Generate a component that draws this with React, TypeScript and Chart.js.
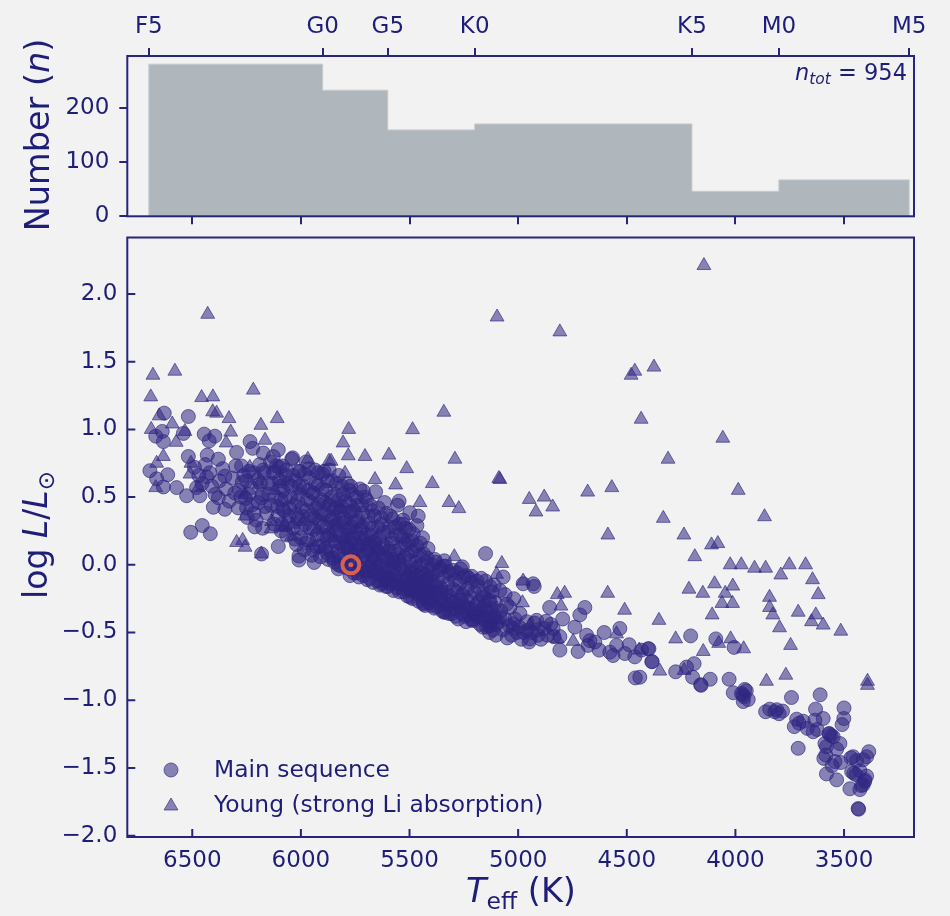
import React, { useEffect, useRef } from "react";
import { Chart, registerables } from "chart.js";
import { drawPoint } from "chart.js/helpers";

Chart.register(...registerables);

const specEdges = [6700, 5900, 5600, 5200, 4200, 3800, 3200];
const specLabels = ["F5", "G0", "G5", "K0", "K5", "M0", "M5"];
const specCounts = [280, 232, 159, 170, 46, 67];
const teffTicks = [6500, 6000, 5500, 5000, 4500, 4000, 3500];
const countTicks = [0, 100, 200];
const logLTicks = [2, 1.5, 1, 0.5, 0, -0.5, -1, -1.5, -2];
const sun: [number, number][] = [[5770, 0]];

const msHot: [number, number][] = [
  [6629,1.12],[6518,1.095],[6638,0.985],[6668,0.95],[6633,0.91],[6541,0.97],[6445,0.965],[6396,0.95],[6422,0.915],[6234,0.91],
  [6222,0.86],[6104,0.85],[6038,0.79],[6695,0.695],[6613,0.665],[6664,0.635],[6633,0.575],[6572,0.57],[6526,0.51],[6518,0.8],
  [6431,0.81],[6454,0.29],[6507,0.24],[6417,0.23],[6181,0.08],[6104,0.135],[6009,0.035],[5939,0.017],[6250,0.62],[6296,0.83],
  [6380,0.78],[6273,0.73],[6434,0.65],[6350,0.655],[6465,0.51],[6480,0.57],[6304,0.53],[6380,0.495],[6403,0.425],[6350,0.41],
  [6250,0.42],[6212,0.28],[6181,0.495],[6120,0.69],[6173,0.7],[6009,0.69],[5963,0.71],[5920,0.68],[6127,0.8],[6173,0.825],
  [6490,0.72],[6470,0.66],[6455,0.6],[6440,0.74],[6420,0.68],[6410,0.58],[6395,0.52],[6375,0.62],[6360,0.71],[6345,0.56],
  [6330,0.47],[6315,0.64],[6300,0.73],[6285,0.55],[6270,0.61],[6255,0.49],[6240,0.69],[6228,0.57],[6215,0.38],[6200,0.63],
  [6190,0.74],[6178,0.52],[6165,0.43],[6150,0.6],[6140,0.76],[6128,0.68],[6115,0.5],[6105,0.36],[6095,0.58],[6085,0.73],
];

const msCore: [number, number][] = [
  [6098,0.72],[6092,0.48],[6088,0.3],[6082,0.55],[6078,0.4],[6070,0.66],[6066,0.22],[6060,0.6],[6055,0.36],[6048,0.5],
  [6042,0.78],[6036,0.27],[6030,0.44],[6026,0.62],[6020,0.15],[6014,0.34],[6010,0.52],[6004,0.69],[6000,0.2],
  [5995,0.42],[5990,0.58],[5985,0.11],[5980,0.3],[5976,0.76],[5970,0.48],[5965,0.18],[5960,0.64],[5955,0.36],[5950,0.07],
  [5946,0.53],[5940,0.26],[5935,0.7],[5930,0.42],[5925,0.13],[5920,0.59],[5915,0.32],[5910,0.06],[5905,0.48],[5900,0.67],[5897,0.22],
  [5893,0.38],[5888,0.12],[5884,0.55],[5880,0.28],[5875,0.04],[5870,0.7],[5866,0.44],[5860,0.18],[5855,0.62],[5850,0.34],
  [5846,0.02],[5840,0.52],[5836,0.25],[5830,0.1],[5826,0.66],[5820,0.4],[5815,-0.01],[5812,0.58],[5808,0.2],[5803,0.31],
  [5798,0.05],[5795,0.47],[5790,0.14],[5786,0.6],[5782,0.26],[5778,-0.03],[5774,0.39],[5770,0.09],[5765,0.52],[5760,0.2],
  [5756,-0.06],[5750,0.32],[5746,0.03],[5742,0.44],[5738,0.15],[5733,-0.09],[5728,0.56],[5724,0.26],[5720,0.06],[5715,0.38],[5710,-0.04],[5705,0.18],
  [5698,0.48],[5694,-0.11],[5690,0.1],[5686,0.3],[5682,-0.02],[5678,0.22],[5672,0.4],[5668,-0.13],[5664,0.05],[5660,0.16],
  [5656,0.54],[5650,-0.07],[5645,0.28],[5640,0.08],[5636,-0.15],[5630,0.35],[5625,-0.03],[5620,0.14],[5615,0.46],[5610,-0.1],[5606,0.03],[5602,0.24],
  [5598,-0.16],[5594,0.1],[5588,0.36],[5584,-0.06],[5580,0.19],[5574,-0.19],[5570,0.02],[5566,0.28],[5560,-0.12],[5555,0.44],
  [5550,0.08],[5546,-0.2],[5540,0.22],[5536,-0.03],[5530,0.33],[5526,-0.15],[5520,0.05],[5515,0.15],[5510,-0.23],[5505,-0.08],[5502,0.26],
  [5498,-0.18],[5494,0.03],[5490,0.18],[5485,-0.25],[5480,-0.1],[5476,0.11],[5470,-0.02],[5466,0.29],[5460,-0.22],[5455,-0.14],
  [5450,0.07],[5446,-0.06],[5440,0.2],[5436,-0.28],[5430,-0.17],[5425,0.02],[5420,-0.1],[5415,0.12],[5410,-0.24],[5405,-0.03],[5400,-0.3],
  [5396,-0.15],[5392,-0.07],[5388,-0.26],[5384,0.04],[5380,-0.2],[5375,-0.31],[5370,-0.12],[5365,-0.04],[5360,-0.24],[5356,-0.17],
  [5350,-0.34],[5345,-0.09],[5340,-0.28],[5335,-0.01],[5330,-0.2],[5325,-0.14],[5320,-0.3],[5315,-0.23],[5310,-0.07],[5305,-0.36],[5300,-0.18],
  [5296,-0.27],[5292,-0.11],[5286,-0.33],[5282,-0.2],[5276,-0.4],[5270,-0.14],[5266,-0.26],[5260,-0.36],[5256,-0.22],[5250,-0.09],
  [5245,-0.31],[5240,-0.42],[5235,-0.18],[5230,-0.27],[5225,-0.37],[5220,-0.24],[5215,-0.13],[5210,-0.33],[5205,-0.41],[5200,-0.2],
  [5195,-0.3],[5190,-0.38],[5185,-0.16],[5180,-0.27],[5175,-0.44],[5170,-0.34],[5165,-0.22],[5160,-0.4],[5155,-0.3],[5150,-0.12],
  [5145,-0.46],[5140,-0.36],[5135,-0.26],[5130,-0.42],[5125,-0.32],[5120,-0.2],[5115,-0.48],[5110,-0.38],[5105,-0.28],[5100,-0.44],
];

const msCoreExtra: [number, number][] = [
  [5880,0.2],[5872,0.36],[5858,0.1],[5848,0.28],[5838,0.42],[5828,0.0],[5818,0.16],[5808,0.34],[5792,-0.02],[5784,0.12],
  [5776,0.24],[5768,0.34],[5758,0.04],[5748,0.16],[5740,-0.06],[5730,0.1],[5722,0.2],[5712,-0.08],[5702,0.02],[5692,0.16],
  [5684,-0.1],[5674,0.06],[5666,-0.05],[5654,0.12],[5646,-0.12],[5638,0.0],[5628,-0.14],[5618,0.06],[5608,-0.16],[5596,-0.04],
  [5586,-0.14],[5576,0.04],[5568,-0.08],[5558,-0.17],[5548,0.0],[5538,-0.12],[5528,-0.2],[5518,-0.06],[5508,-0.16],[5496,-0.24],
  [5488,-0.12],[5478,-0.2],[5468,-0.08],[5458,-0.27],[5448,-0.16],[5438,-0.22],[5428,-0.3],[5418,-0.18],[5408,-0.28],[5398,-0.2],
  [5386,-0.32],[5374,-0.22],[5362,-0.3],[5352,-0.2],[5342,-0.35],[5328,-0.26],[5318,-0.36],[5302,-0.28],[5288,-0.38],[5274,-0.3],
  [5258,-0.28],[5244,-0.38],[5228,-0.32],[5212,-0.4],[5196,-0.36],[5178,-0.38],[5162,-0.46],[5148,-0.38],[5132,-0.5],[5118,-0.4],
  [5102,-0.52],[5090,-0.42],[5080,-0.34],[5070,-0.48],[5060,-0.4],[5050,-0.54],[5040,-0.45],[5030,-0.52],[5015,-0.4],[5005,-0.5],
  [4995,-0.46],[4985,-0.55],[4975,-0.5],[4960,-0.42],[4950,-0.57],[4935,-0.5],[4925,-0.43],[4910,-0.48],[4895,-0.55],[4880,-0.47],
  [4865,-0.52],[4850,-0.44],[4835,-0.53],[5548,0.47],[5499,0.385],[5460,0.36],[5532,0.3],[5713,0.545],[5771,0.58],[5893,0.69],
  [5943,0.53],[6009,0.065],[5828,-0.03],[5774,-0.08],[5257,-0.015],[5345,-0.01],[5214,-0.085],[5437,-0.29],[5334,-0.35],[5214,-0.41],[5130,-0.45],
];

const msUpperHot: [number, number][] = [
  [6288,0.42],[6276,0.5],[6263,0.66],[6247,0.35],[6239,0.52],[6226,0.44],[6218,0.68],[6206,0.33],[6197,0.46],[6186,0.6],
  [6176,0.27],[6169,0.68],[6158,0.38],[6148,0.52],[6137,0.44],[6131,0.6],[6122,0.3],[6113,0.73],[6107,0.43],[6099,0.62],
  [6091,0.25],[6083,0.41],[6073,0.49],[6067,0.7],[6059,0.31],[6052,0.42],[6044,0.58],[6037,0.66],[6028,0.19],[6021,0.37],
  [6015,0.47],[6007,0.58],[5999,0.27],[5992,0.36],[5983,0.67],[5978,0.16],[5972,0.4],[5966,0.55],[5958,0.27],[5952,0.46],
  [5944,0.11],[5938,0.35],[5932,0.6],[5926,0.22],[5919,0.45],
];

const msUpperMid: [number, number][] = [
  [5913,0.14],[5908,0.38],[5902,0.56],[5895,0.28],[5889,0.46],[5882,0.09],[5877,0.62],[5871,0.22],[5864,0.33],[5859,0.5],
  [5853,0.05],[5847,0.41],[5842,0.17],[5837,0.6],[5832,0.3],[5827,0.48],[5822,0.07],[5817,0.23],[5811,0.43],[5806,0.52],
  [5801,0.13],[5796,0.34],[5791,0.02],[5787,0.22],[5781,0.45],[5776,0.55],[5772,0.15],[5767,0.28],[5762,0.03],[5757,0.4],
  [5752,0.1],[5747,0.24],[5743,0.5],[5737,0.33],[5731,-0.02],[5727,0.14],[5721,0.44],[5716,0.28],[5711,0.07],[5706,0.5],
  [5701,0.22],[5696,-0.05],[5691,0.36],[5687,0.12],[5681,0.44],[5676,0.0],[5671,0.27],[5665,0.17],[5661,0.36],[5655,-0.03],
  [5649,0.1],[5644,0.42],[5639,0.2],[5634,-0.08],[5629,0.3],[5624,0.07],[5619,0.24],[5613,-0.12],[5609,0.38],[5604,0.13],
  [5599,0.0],[5593,0.28],[5589,-0.1],[5583,0.16],[5578,0.34],[5572,-0.03],[5567,0.1],[5561,0.22],[5556,-0.14],[5551,0.03],
  [5545,0.3],[5541,0.12],[5535,-0.17],[5531,0.19],[5525,-0.03],[5519,0.27],[5514,-0.1],[5509,0.08],[5504,0.17],[5499,-0.19],
  [5493,-0.05],[5489,0.1],[5483,0.23],[5477,-0.16],[5472,0.02],[5467,0.14],[5461,-0.08],[5456,-0.2],[5451,0.16],[5445,0.0],
  [5441,-0.13],[5435,0.08],[5429,-0.25],[5424,-0.07],[5419,0.05],[5413,-0.17],[5407,-0.1],[5403,-0.26],[5397,0.0],[5391,-0.13],
];

const msUpperCool: [number, number][] = [
  [5380,0.02],[5360,-0.02],[5340,0.03],[5320,-0.05],[5300,-0.04],[5280,-0.06],[5265,-0.03],[5240,-0.08],[5225,-0.1],[5190,-0.12],
  [5170,-0.1],[5130,-0.16],[5110,-0.15],[5060,-0.22],[5020,-0.25],
];

const msTail: [number, number][] = [
  [5150,0.083],[4855,-0.315],[4795,-0.4],[4716,-0.37],[4693,-0.315],[4532,-0.47],[4739,-0.46],[4872,-0.417],[4808,-0.63],[4724,-0.64],
  [4678,-0.595],[4627,-0.63],[4685,-0.52],[4604,-0.5],[4563,-0.67],[4578,-0.645],[4509,-0.655],[4463,-0.68],[4398,-0.62],[4385,-0.715],
  [4461,-0.835],[4489,-0.59],[4547,-0.595],[4647,-0.57],[4931,-0.14],[4926,-0.16],[4977,-0.14],[5069,-0.09],[5084,-0.19],[5133,-0.45],
  [5023,-0.47],[4946,-0.547],[4908,-0.52],[4839,-0.47],[4808,-0.53],[4915,-0.41],[4961,-0.485],[5038,-0.315],[4992,-0.36],[5023,-0.435],
  [5084,-0.385],[5053,-0.29],[5130,-0.265],[5160,-0.24],[5145,-0.34],[4670,-0.56],[4206,-0.525],[4090,-0.547],[4006,-0.61],[4402,-0.62],
  [4383,-0.715],[4432,-0.63],[4275,-0.79],[4190,-0.73],[4225,-0.755],[4197,-0.83],[4160,-0.885],[4158,-0.89],[4116,-0.845],[4029,-0.845],
  [4440,-0.83],[4010,-0.945],[3957,-0.92],[3972,-0.95],[3961,-0.975],[3742,-0.98],[3610,-0.96],
];

const msCool: [number, number][] = [
  [3964,-1.01],[3941,-0.995],[3950,-0.93],[3966,-0.96],[3861,-1.085],[3842,-1.066],[3819,-1.085],[3799,-1.1],[3783,-1.08],[3810,-1.07],
  [3718,-1.14],[3729,-1.195],[3707,-1.17],[3688,-1.155],[3631,-1.066],[3596,-1.135],[3634,-1.147],[3669,-1.208],[3642,-1.233],[3624,-1.216],
  [3711,-1.355],[3500,-1.057],[3501,-1.135],[3509,-1.18],[3569,-1.245],[3550,-1.27],[3588,-1.32],[3519,-1.32],[3534,-1.36],[3581,-1.343],
  [3584,-1.405],[3593,-1.43],[3515,-1.46],[3542,-1.453],[3555,-1.483],[3581,-1.544],[3534,-1.588],[3458,-1.417],[3468,-1.425],[3386,-1.38],
  [3396,-1.417],[3412,-1.44],[3442,-1.446],[3465,-1.527],[3455,-1.54],[3427,-1.52],[3396,-1.56],[3404,-1.588],[3412,-1.625],[3427,-1.66],
  [3473,-1.654],[3435,-1.8],[3433,-1.805],[3567,-1.25],[3560,-1.26],[3405,-1.6],[3420,-1.63],[3445,-1.55],
];

const young: [number, number][] = [
  [6429,1.85],[6681,1.4],[6580,1.43],[6691,1.24],[6457,1.235],[6405,1.24],[6219,1.29],[6406,1.13],[6388,1.12],[6652,1.1],
  [6331,1.08],[6592,1.04],[6109,1.08],[6184,1.03],[6689,1.0],[6534,0.985],[6323,0.98],[6574,0.905],[6344,0.9],[6165,0.92],
  [6633,0.8],[6664,0.75],[5968,0.78],[6506,0.75],[5871,0.765],[6668,0.57],[6192,0.595],[6084,0.62],[6510,0.67],[6472,0.57],
  [6257,0.52],[6257,0.36],[6135,0.32],[6296,0.165],[6268,0.18],[6257,0.13],[6182,0.08],[6082,0.275],[5806,0.9],[5782,0.805],
  [5705,0.8],[5595,0.81],[5513,0.71],[5564,0.59],[5452,0.46],[5659,0.63],[5797,0.675],[5861,0.765],[5820,0.42],[5925,0.26],
  [6035,0.3],[5943,0.165],[6043,0.21],[5797,0.18],[5651,0.2],[5697,0.14],[5521,0.19],[5513,-0.06],[5421,-0.08],[5637,-0.055],
  [5580,0.02],[5858,0.05],[5651,0.115],[5495,-0.15],[6073,0.285],[5989,0.32],[6138,0.265],[5395,0.6],[5084,0.63],[5318,0.46],
  [5273,0.415],[5294,0.06],[5099,-0.07],[5352,-0.19],[5257,-0.19],[5214,-0.34],[5145,-0.215],[5099,-0.325],[5475,-0.02],[5780,1.0],
  [5342,1.127],[5486,0.998],[5291,0.78],[5089,0.638],[4949,0.483],[4880,0.5],[4841,0.427],[4918,0.39],[4680,0.537],[4569,0.57],
  [4587,0.22],[5075,0.01],[5097,1.83],[4808,1.72],[4145,2.21],[4463,1.43],[4480,1.4],[4375,1.46],[4434,1.075],[4058,0.935],
  [4310,0.78],[3987,0.55],[4332,0.343],[3866,0.355],[4237,0.22],[4110,0.147],[4081,0.157],[4187,0.06],[4024,0.0],[3973,0.0],
  [3912,-0.025],[3861,-0.025],[3752,0.0],[3677,0.0],[3791,-0.075],[3645,-0.11],[3619,-0.22],[4096,-0.14],[4012,-0.157],[4214,-0.18],
  [4150,-0.21],[4047,-0.21],[3843,-0.24],[4062,-0.285],[4013,-0.285],[3843,-0.315],[3828,-0.37],[3711,-0.35],[3630,-0.37],[3650,-0.42],
  [3596,-0.445],[3515,-0.49],[4107,-0.37],[3797,-0.465],[4352,-0.41],[4275,-0.547],[4022,-0.547],[4077,-0.58],[3962,-0.62],[4148,-0.64],
  [3746,-0.595],[4348,-0.785],[4236,-0.78],[3768,-0.815],[3857,-0.86],[3392,-0.86],[3392,-0.89],[4977,-0.12],[4820,-0.22],[4786,-0.21],
  [4803,-0.305],[4588,-0.21],[4510,-0.335],[4980,-0.28],[4946,-0.45],[4820,-0.547],[4747,-0.565],[4547,-0.51],[4443,-0.63],[5093,-0.4],
];

const youngCluster: [number, number][] = [
  [6235,0.72],[6120,0.55],[6000,0.55],[5880,0.46],[5930,0.35],[5850,0.2],[5750,0.42],[5900,0.12],[5830,0.3],[5760,0.1],
  [5720,0.3],[5610,0.1],[5680,0.02],[5740,-0.02],[5590,-0.1],[5540,0.05],[5620,-0.13],[5470,-0.12],[5400,-0.2],[5330,-0.28],
  [5280,-0.3],[5180,-0.32],[5440,-0.2],[5560,-0.15],[5650,0.0],
];

const mainSequence = [...msHot, ...msCore, ...msCoreExtra, ...msUpperHot, ...msUpperMid, ...msUpperCool, ...msTail, ...msCool];
const youngStars = [...young, ...youngCluster];

const BG = "#f2f2f2";
const TEXT = "#1e1e78";
const AXIS = "#25257c";
const FONT = "'DejaVu Sans'";
const MARK_FILL = "rgba(48,38,130,0.55)";
const MARK_EDGE = "rgba(48,38,130,0.65)";
const RED = "#d9604f";
const X_MIN = 3178;
const X_MAX = 6799;

type Run = { text: string; size: number; italic?: boolean; dy?: number };

function drawRuns(ctx: CanvasRenderingContext2D, runs: Run[], x: number, y: number, rot: number, align: "left" | "center" | "right") {
  ctx.save();
  ctx.translate(x, y);
  ctx.rotate(rot);
  ctx.fillStyle = TEXT;
  ctx.textBaseline = "alphabetic";
  ctx.textAlign = "left";
  const fontOf = (r: Run) => `${r.italic ? "italic " : ""}${r.size}px ${FONT}`;
  let total = 0;
  for (const r of runs) {
    ctx.font = fontOf(r);
    total += ctx.measureText(r.text).width;
  }
  let cx = align === "left" ? 0 : align === "center" ? -total / 2 : -total;
  for (const r of runs) {
    ctx.font = fontOf(r);
    ctx.fillText(r.text, cx, r.dy || 0);
    cx += ctx.measureText(r.text).width;
  }
  ctx.restore();
}

const framePlugin = {
  id: "frame",
  afterDraw(chart: any) {
    const { ctx, chartArea: a } = chart;
    ctx.save();
    ctx.strokeStyle = AXIS;
    ctx.lineWidth = 2;
    ctx.strokeRect(a.left, a.top, a.right - a.left, a.bottom - a.top);
    ctx.restore();
  },
};

const inwardTicksPlugin = {
  id: "inwardTicks",
  afterDraw(chart: any) {
    const { ctx, chartArea: a, scales } = chart;
    ctx.save();
    ctx.strokeStyle = AXIS;
    ctx.lineWidth = 2;
    ctx.beginPath();
    for (const t of scales.x.ticks) {
      const px = scales.x.getPixelForValue(t.value);
      ctx.moveTo(px, a.bottom);
      ctx.lineTo(px, a.bottom - 8);
    }
    for (const t of scales.y.ticks) {
      const py = scales.y.getPixelForValue(t.value);
      ctx.moveTo(a.left, py);
      ctx.lineTo(a.left + 8, py);
    }
    ctx.stroke();
    ctx.restore();
  },
};

function fixedTicks(values: number[]) {
  return (scale: any) => {
    scale.ticks = values.map((value) => ({ value }));
  };
}

function fitBox(size: { width?: number; height?: number }) {
  return (s: any) => {
    if (size.width !== undefined) s.width = size.width;
    if (size.height !== undefined) s.height = size.height;
    s.paddingLeft = 0;
    s.paddingRight = 0;
    s.paddingTop = 0;
    s.paddingBottom = 0;
  };
}

function histPoints() {
  const pts: { x: number; y: number }[] = [{ x: specEdges[0], y: 0 }];
  specCounts.forEach((n, i) => pts.push({ x: specEdges[i], y: n }));
  pts.push({ x: specEdges[specEdges.length - 1], y: specCounts[specCounts.length - 1] });
  pts.push({ x: specEdges[specEdges.length - 1], y: 0 });
  return pts;
}

const toXY = (a: [number, number][]) => a.map(([x, y]) => ({ x, y }));

export default function App() {
  const topRef = useRef<HTMLCanvasElement>(null);
  const botRef = useRef<HTMLCanvasElement>(null);

  useEffect(() => {
    document.body.style.margin = "0";
    document.body.style.background = BG;
    const tickFont = { family: FONT, size: 23 };
    const grid = (tickLength: number) => ({ drawOnChartArea: false, drawTicks: true, tickLength, tickColor: AXIS, lineWidth: 2, z: 1 });

    const topChart = new Chart(topRef.current as HTMLCanvasElement, {
      type: "scatter",
      data: {
        datasets: [
          {
            label: "Spectral type histogram",
            data: histPoints(),
            showLine: true,
            stepped: true,
            fill: "origin",
            backgroundColor: "#afb6bc",
            borderColor: "#c6cbd0",
            borderWidth: 1,
            pointRadius: 0,
            xAxisID: "x",
            yAxisID: "y",
          } as any,
        ],
      },
      options: {
        animation: false,
        responsive: false,
        devicePixelRatio: 1,
        layout: { padding: { left: 0, right: 36, top: 0, bottom: 0 } },
        plugins: { legend: { display: false }, tooltip: { enabled: false } },
        scales: {
          x: {
            type: "linear",
            position: "bottom",
            min: X_MIN,
            max: X_MAX,
            reverse: true,
            afterBuildTicks: fixedTicks(teffTicks),
            afterFit: fitBox({ height: 18.7 }),
            ticks: { display: false },
            border: { display: false },
            grid: grid(8),
          },
          xTop: {
            type: "linear",
            position: "top",
            min: X_MIN,
            max: X_MAX,
            reverse: true,
            afterBuildTicks: fixedTicks(specEdges),
            afterFit: fitBox({ height: 56 }),
            ticks: {
              color: TEXT,
              font: tickFont,
              padding: 7,
              maxRotation: 0,
              autoSkip: false,
              callback: (v: any) => specLabels[specEdges.indexOf(Number(v))],
            },
            border: { display: false },
            grid: grid(8),
          },
          y: {
            type: "linear",
            position: "left",
            min: 0,
            max: 295,
            afterBuildTicks: fixedTicks(countTicks),
            afterFit: fitBox({ width: 127.3 }),
            ticks: { color: TEXT, font: tickFont, padding: 10, autoSkip: false, callback: (v: any) => String(v) },
            border: { display: false },
            grid: grid(8),
          },
        },
      } as any,
      plugins: [
        framePlugin,
        {
          id: "topText",
          afterDraw(chart: any) {
            const { ctx } = chart;
            drawRuns(ctx, [
              { text: "Number (", size: 33.5 },
              { text: "n", size: 33.5, italic: true },
              { text: ")", size: 33.5 },
            ], 49, 135, -Math.PI / 2, "center");
            drawRuns(ctx, [
              { text: "n", size: 22.5, italic: true },
              { text: "tot", size: 15.5, italic: true, dy: 4 },
              { text: " = 954", size: 22.5 },
            ], 907, 80, 0, "right");
          },
        },
      ],
    });

    const botChart = new Chart(botRef.current as HTMLCanvasElement, {
      type: "scatter",
      data: {
        datasets: [
          {
            label: "Main sequence",
            data: toXY(mainSequence),
            pointStyle: "circle",
            pointRadius: 7,
            backgroundColor: MARK_FILL,
            borderColor: MARK_EDGE,
            borderWidth: 1,
            order: 3,
          },
          {
            label: "Young (strong Li absorption)",
            data: toXY(youngStars),
            pointStyle: "triangle",
            pointRadius: 8,
            backgroundColor: MARK_FILL,
            borderColor: MARK_EDGE,
            borderWidth: 1,
            order: 2,
          },
          {
            label: "Sun",
            data: toXY(sun),
            pointStyle: "circle",
            pointRadius: 8.5,
            backgroundColor: "rgba(0,0,0,0)",
            borderColor: RED,
            borderWidth: 4,
            order: 1,
          },
          {
            label: "Sun centre",
            data: toXY(sun),
            pointStyle: "circle",
            pointRadius: 2.5,
            backgroundColor: RED,
            borderColor: RED,
            borderWidth: 0,
            order: 0,
          },
        ],
      },
      options: {
        animation: false,
        responsive: false,
        devicePixelRatio: 1,
        layout: { padding: { left: 0, right: 36, top: 10.3, bottom: 0 } },
        plugins: { legend: { display: false }, tooltip: { enabled: false } },
        scales: {
          x: {
            type: "linear",
            position: "bottom",
            min: X_MIN,
            max: X_MAX,
            reverse: true,
            afterBuildTicks: fixedTicks(teffTicks),
            afterFit: fitBox({ height: 79 }),
            ticks: { color: TEXT, font: tickFont, padding: 10, maxRotation: 0, autoSkip: false, callback: (v: any) => String(v) },
            border: { display: false },
            grid: { drawOnChartArea: false, drawTicks: false },
          },
          y: {
            type: "linear",
            position: "left",
            min: -2.01,
            max: 2.417,
            afterBuildTicks: fixedTicks(logLTicks),
            afterFit: fitBox({ width: 127.3 }),
            ticks: {
              color: TEXT,
              font: tickFont,
              padding: 10,
              autoSkip: false,
              callback: (v: any) => Number(v).toFixed(1).replace("-", "\u2212"),
            },
            border: { display: false },
            grid: { drawOnChartArea: false, drawTicks: false },
          },
        },
      } as any,
      plugins: [
        framePlugin,
        inwardTicksPlugin,
        {
          id: "botText",
          afterDraw(chart: any) {
            const { ctx } = chart;
            const off = 225;
            drawRuns(ctx, [
              { text: "T", size: 33.5, italic: true },
              { text: "eff", size: 23.5, dy: 7 },
              { text: " (K)", size: 33.5 },
            ], 521, 902 - off, 0, "center");
            drawRuns(ctx, [
              { text: "log ", size: 33 },
              { text: "L", size: 33, italic: true },
              { text: "/", size: 33 },
              { text: "L", size: 33, italic: true },
              { text: "\u2299", size: 23, dy: 7 },
            ], 47, 535 - off, -Math.PI / 2, "center");

            const rows = [
              { style: "circle", r: 7, y: 770, base: 777, i: 0 },
              { style: "triangle", r: 8, y: 806, base: 811.5, i: 1 },
            ];
            for (const row of rows) {
              ctx.save();
              ctx.fillStyle = MARK_FILL;
              ctx.strokeStyle = MARK_EDGE;
              ctx.lineWidth = 1;
              drawPoint(ctx, { pointStyle: row.style, radius: row.r, borderWidth: 1, rotation: 0 } as any, 171, row.y - off);
              ctx.restore();
              drawRuns(ctx, [{ text: chart.data.datasets[row.i].label, size: 23.4 }], 214, row.base - off, 0, "left");
            }
          },
        },
      ],
    });

    return () => {
      topChart.destroy();
      botChart.destroy();
    };
  }, []);

  return (
    <div style={{ position: "absolute", left: 0, top: 0, width: 950, height: 916, background: BG, overflow: "hidden" }}>
      <canvas ref={topRef} width={950} height={235} style={{ position: "absolute", left: 0, top: 0, width: 950, height: 235 }} />
      <canvas ref={botRef} width={950} height={691} style={{ position: "absolute", left: 0, top: 225, width: 950, height: 691 }} />
    </div>
  );
}
